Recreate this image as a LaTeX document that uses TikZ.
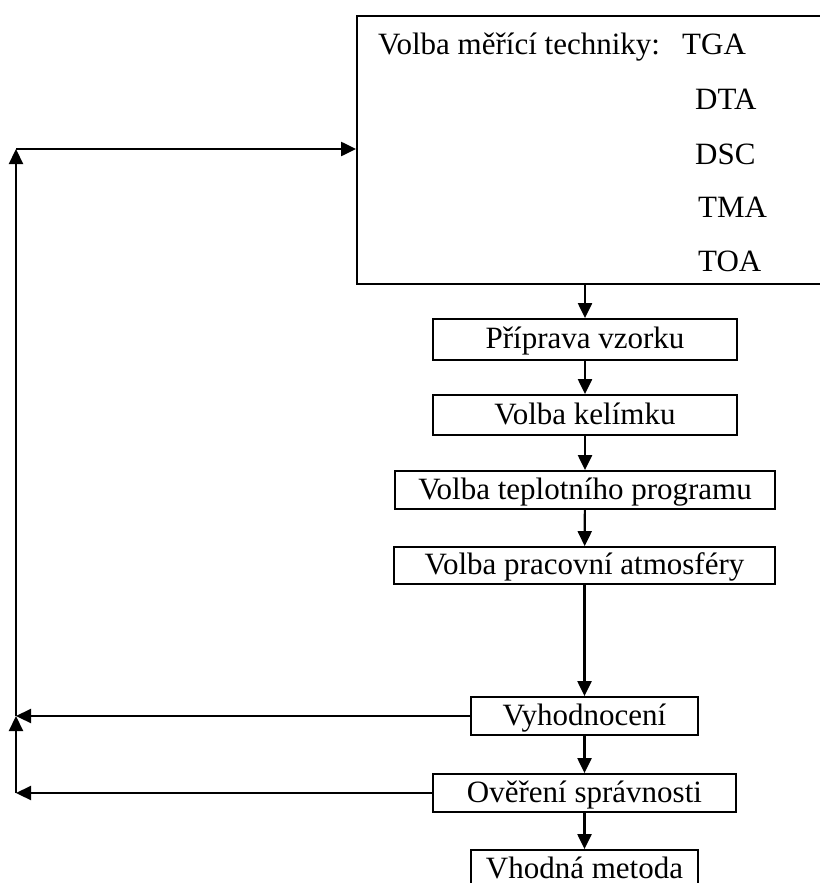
\documentclass[tikz,border=0pt]{standalone}
\usepackage{fontspec}
\setmainfont{Liberation Serif}
\usetikzlibrary{arrows.meta}
\begin{document}
\begin{tikzpicture}[x=1pt,y=-1pt,
 box/.style={draw, line width=1.8pt, inner sep=0pt, text height=22pt, text depth=4pt, font=\fontsize{31}{37}\selectfont},
 lbl/.style={inner sep=0pt, anchor=base west, font=\fontsize{31}{37}\selectfont},
 arr/.style={line width=2.2pt, -{Triangle[length=15pt,width=14pt]}}]
\useasboundingbox (0,0) rectangle (819,883);
% big box (its right edge lies beyond the picture)
\node[draw, line width=1.8pt, inner sep=0pt, minimum width=473pt, minimum height=268pt] (tech) at (593.5,150) {};
\node[lbl] (t0) at (378,55) {Volba měřící techniky:};
\node[lbl] (t1) at (682,55) {TGA};
\node[lbl] (t2) at (695,109) {DTA};
\node[lbl] (t3) at (695,164) {DSC};
\node[lbl] (t4) at (698,217) {TMA};
\node[lbl] (t5) at (698,271) {TOA};
% chain
\node[box, minimum width=304pt, minimum height=41pt] (prep) at (585,339.5) {Příprava vzorku};
\node[box, minimum width=304pt, minimum height=40pt] (kel) at (585,415) {Volba kelímku};
\node[box, minimum width=380pt, minimum height=38pt] (tep) at (585,490) {Volba teplotního programu};
\node[box, minimum width=381pt, minimum height=37pt] (atm) at (584.5,565.5) {Volba pracovní atmosféry};
\node[box, minimum width=227pt, minimum height=38pt] (vyh) at (584.5,716) {Vyhodnocení};
\node[box, minimum width=303pt, minimum height=38pt] (over) at (584.5,793) {Ověření správnosti};
\node[box, minimum width=227pt, minimum height=38pt] (vhod) at (584.5,869) {Vhodná metoda};
\draw[arr] (prep.north |- tech.south) -- (prep.north);
\draw[arr] (prep) -- (kel);
\draw[arr] (kel) -- (tep);
\draw[arr] (tep) -- (atm);
\draw[arr] (atm) -- (vyh);
\draw[arr] (vyh) -- (over);
\draw[arr] (over) -- (vhod);
% feedback loop
\coordinate (c1) at (16,149);
\coordinate (c2) at (16,716);
\coordinate (c3) at (16,793);
\draw[arr] (vyh.west) -- (c2);
\draw[arr] (over.west) -- (c3);
\draw[arr] (c3) -- (c2);
\draw[arr] (c2) -- (c1);
\draw[arr] (c1) -- (c1 -| tech.west);
\end{tikzpicture}
\end{document}
